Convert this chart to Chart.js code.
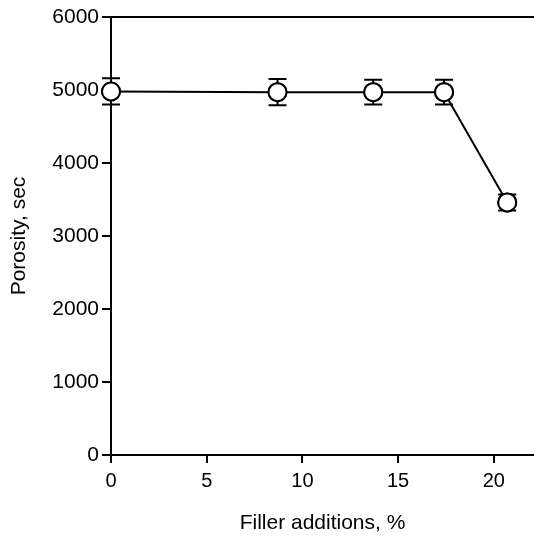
<!DOCTYPE html>
<html>
<head>
<meta charset="utf-8">
<script src="https://cdn.jsdelivr.net/npm/chart.js@4"></script>
<style>
  html, body { margin: 0; padding: 0; background: #fff; }
  #wrap { width: 534px; height: 536px; }
</style>
</head>
<body>
<div id="wrap"><canvas id="porosityChart"></canvas></div>
<script>
// Data
const fillerPct = [0, 8.7, 13.7, 17.4, 20.7];
const porosity = [4980, 4970, 4970, 4970, 3460];
const porosityErr = [180, 180, 170, 170, 110];
const xTicks = [0, 5, 10, 15, 20];
const yTicks = [0, 1000, 2000, 3000, 4000, 5000, 6000];

const FONT = "'Liberation Sans', Arial, sans-serif";

// error bars + top frame line
const errorBarPlugin = {
    id: 'errorBars',
    afterDatasetsDraw(chart) {
        const ctx = chart.ctx;
        const xs = chart.scales.x;
        const ys = chart.scales.y;
        const area = chart.chartArea;
        ctx.save();
        ctx.strokeStyle = '#000';
        ctx.lineWidth = 2;
        // top line at 6000
        ctx.beginPath();
        ctx.moveTo(area.left, ys.getPixelForValue(6000));
        ctx.lineTo(chart.width, ys.getPixelForValue(6000));
        ctx.stroke();
        fillerPct.forEach((x, i) => {
            const px = xs.getPixelForValue(x);
            const yTop = ys.getPixelForValue(porosity[i] + porosityErr[i]);
            const yBot = ys.getPixelForValue(porosity[i] - porosityErr[i]);
            ctx.beginPath();
            ctx.moveTo(px, yTop);
            ctx.lineTo(px, yBot);
            ctx.moveTo(px - 9, yTop);
            ctx.lineTo(px + 9, yTop);
            ctx.moveTo(px - 9, yBot);
            ctx.lineTo(px + 9, yBot);
            ctx.stroke();
        });
        ctx.restore();
    }
};

// redraw points on top of error bars
const pointsOnTop = {
    id: 'pointsOnTop',
    afterDraw(chart) {
        const ctx = chart.ctx;
        const xs = chart.scales.x;
        const ys = chart.scales.y;
        ctx.save();
        ctx.strokeStyle = '#000';
        ctx.fillStyle = '#fff';
        ctx.lineWidth = 2;
        fillerPct.forEach((x, i) => {
            ctx.beginPath();
            ctx.arc(xs.getPixelForValue(x), ys.getPixelForValue(porosity[i]), 9, 0, Math.PI * 2);
            ctx.fill();
            ctx.stroke();
        });
        ctx.restore();
    }
};

const ctx = document.getElementById('porosityChart').getContext('2d');
new Chart(ctx, {
    type: 'scatter',
    data: {
        datasets: [{
            data: fillerPct.map((x, i) => ({ x: x, y: porosity[i] })),
            showLine: true,
            borderColor: '#000',
            borderWidth: 2,
            pointRadius: 9,
            pointBackgroundColor: '#fff',
            pointBorderColor: '#000',
            pointBorderWidth: 2,
            clip: false
        }]
    },
    options: {
        responsive: true,
        maintainAspectRatio: false,
        animation: false,
        layout: { autoPadding: false, padding: { top: 17, right: 0, left: 0, bottom: 0 } },
        plugins: {
            legend: { display: false },
            tooltip: { enabled: false }
        },
        scales: {
            x: {
                type: 'linear',
                min: 0,
                max: 22.1,
                afterBuildTicks: s => { s.ticks = xTicks.map(v => ({ value: v })); },
                afterFit: s => { s.height = 81; s.paddingRight = 0; s.paddingLeft = 0; },
                grid: { drawOnChartArea: false, drawTicks: true, tickLength: 8, color: '#000', lineWidth: 2 },
                border: { display: true, color: '#000', width: 2 },
                ticks: { color: '#000', font: { family: FONT, size: 20 }, padding: 6, maxRotation: 0, callback: v => String(v) },
                title: { display: true, text: 'Filler additions, %', color: '#000', font: { family: FONT, size: 21 }, padding: { top: 14, bottom: 0 } }
            },
            y: {
                min: 0,
                max: 6000,
                afterBuildTicks: s => { s.ticks = yTicks.map(v => ({ value: v })); },
                afterFit: s => { s.width = 111; },
                grid: { drawOnChartArea: false, drawTicks: true, tickLength: 9, color: '#000', lineWidth: 2 },
                border: { display: true, color: '#000', width: 2 },
                ticks: { color: '#000', font: { family: FONT, size: 21 }, padding: 3, callback: v => String(v) },
                title: { display: true, text: 'Porosity, sec', color: '#000', font: { family: FONT, size: 21 }, padding: { top: 7, bottom: 4 } }
            }
        }
    },
    plugins: [errorBarPlugin, pointsOnTop]
});
</script>
</body>
</html>
